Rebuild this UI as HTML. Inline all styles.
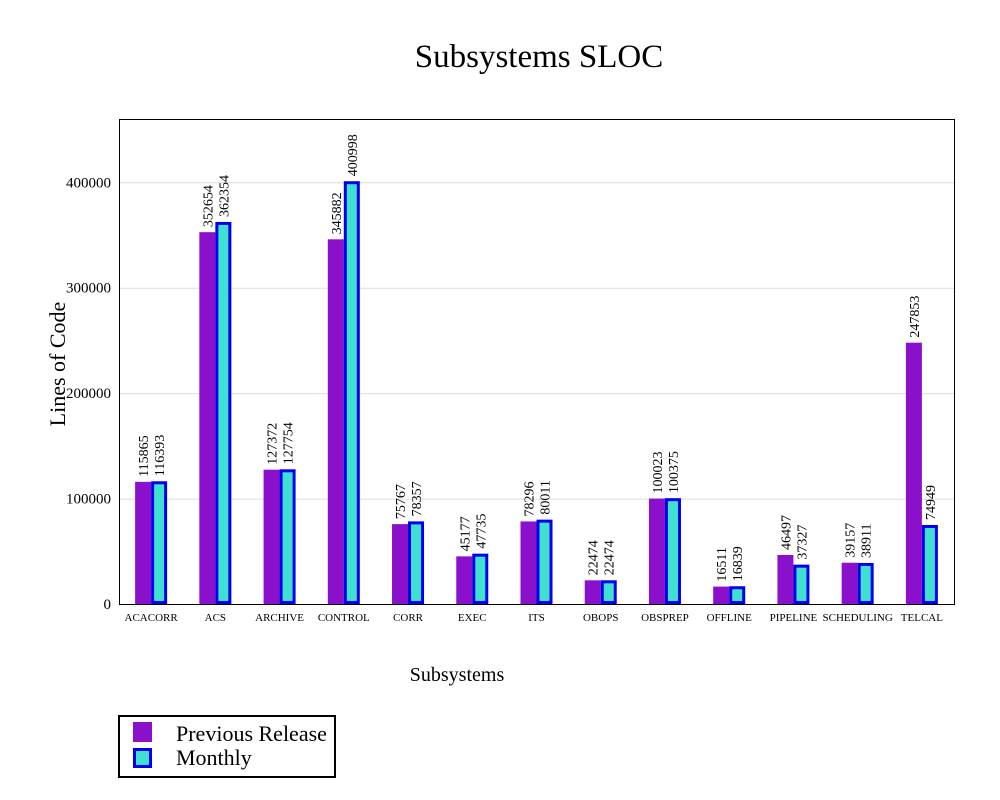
<!DOCTYPE html>
<html><head><meta charset="utf-8"><style>
body{margin:0;background:#fff;}
svg text{font-family:"Liberation Serif",serif;}
</style></head><body>
<svg id="chart" width="1000" height="795" xmlns="http://www.w3.org/2000/svg">
<text x="539" y="67" font-size="33" text-anchor="middle">Subsystems SLOC</text>
<g id="grid"></g>
<rect x="119.5" y="119.5" width="835" height="485" fill="none" stroke="#000" stroke-width="1"/>
<g id="bars"></g>
<text transform="translate(65,364) rotate(-90)" font-size="22" text-anchor="middle">Lines of Code</text>
<text x="457" y="681" font-size="20" text-anchor="middle">Subsystems</text>
<g>
<rect x="119" y="716" width="216" height="61" fill="#fff" stroke="#000" stroke-width="2"/>
<rect x="133" y="722" width="19" height="20" fill="#8a10cc"/>
<text x="176" y="741" font-size="22">Previous Release</text>
<rect x="134.5" y="749.5" width="16" height="17" fill="#40e0d0" stroke="#0000ee" stroke-width="3"/>
<text x="176" y="765" font-size="22">Monthly</text>
</g>
</svg>
<script>
const categories=["ACACORR","ACS","ARCHIVE","CONTROL","CORR","EXEC","ITS","OBOPS","OBSPREP","OFFLINE","PIPELINE","SCHEDULING","TELCAL"];
const previousRelease=[115865,352654,127372,345882,75767,45177,78296,22474,100023,16511,46497,39157,247853];
const monthly=[116393,362354,127754,400998,78357,47735,80011,22474,100375,16839,37327,38911,74949];
const yTicks=[0,100000,200000,300000,400000];
const NS="http://www.w3.org/2000/svg";
const X0=119,X1=954,Y0=604,YT=119,YMAX=460000;
const y=v=>Y0-(v/YMAX)*(Y0-YT);
const band=(X1-X0)/categories.length;
const xc=i=>X0+band*(i+0.5);
const grid=document.getElementById('grid'),bars=document.getElementById('bars');
function mk(tag,attrs,parent){const e=document.createElementNS(NS,tag);for(const k in attrs)e.setAttribute(k,attrs[k]);parent.appendChild(e);return e;}
yTicks.forEach((t,i)=>{
  if(t>0){const l=mk('line',{x1:X0,x2:X1,y1:y(t)+0.5,y2:y(t)+0.5,stroke:'#dcdcdc','stroke-width':1},grid);
  
  }
  const tx=mk('text',{x:111,y:y(t)+5,'font-size':15,'text-anchor':'end'},grid);
  tx.textContent=t;
  
  
});
categories.forEach((c,i)=>{
  const cx=xc(i),w=16;
  const p=mk('rect',{x:cx-w,y:y(previousRelease[i]),width:w,height:Y0-y(previousRelease[i]),fill:'#8a10cc'},bars);
  
  
  const m=mk('rect',{x:cx+1.5,y:y(monthly[i])+1.5,width:w-3,height:Y0-y(monthly[i])-3,fill:'#40e0d0',stroke:'#0000ee','stroke-width':3},bars);
  
  
  const l1=mk('text',{transform:`translate(${cx-w/2+5},${y(previousRelease[i])-5}) rotate(-90)`,'font-size':14},bars);
  l1.textContent=previousRelease[i];
  
  
  const l2=mk('text',{transform:`translate(${cx+w/2+5},${y(monthly[i])-5}) rotate(-90)`,'font-size':14},bars);
  l2.textContent=monthly[i];
  
  
  const cl=mk('text',{x:cx,y:621,'font-size':11,'text-anchor':'middle'},bars);
  cl.textContent=c;
  
  
});
</script>
</body></html>
